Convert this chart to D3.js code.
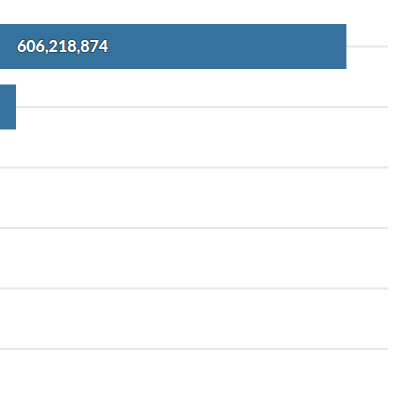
<!DOCTYPE html>
<html>
<head>
<meta charset="utf-8">
<script src="https://cdn.jsdelivr.net/npm/d3@7"></script>
<style>
  html, body { margin: 0; padding: 0; background: #fff; }
  svg { display: block; }
  .lbl { font-family: Lato, "Open Sans", sans-serif; font-weight: 900; font-size: 16px; fill: #fff;
         stroke: rgba(20,50,75,0.7); stroke-width: 2px; paint-order: stroke; stroke-linejoin: round; }
</style>
</head>
<body>
<svg id="chart" width="397" height="395"></svg>
<script>
const categories = ["Category 1", "Category 2", "Category 3", "Category 4", "Category 5", "Category 6"];
const values = [606218874, 28000000, 0, 0, 0, 0];

const W = 397, H = 395;
const svg = d3.select("#chart");

const x = d3.scaleLinear().domain([0, 700000000]).range([0, 400]);
const y = d3.scaleBand().domain(categories).range([16.25, 379.25]).paddingInner(0.256).paddingOuter(0.128);

const data = categories.map((c, i) => ({ c, v: values[i] }));

// gridlines at band centers
svg.append("g").selectAll("line").data(categories).join("line")
  .attr("x1", 0).attr("x2", 388)
  .attr("y1", d => y(d) + y.bandwidth() / 2)
  .attr("y2", d => y(d) + y.bandwidth() / 2)
  .attr("stroke", "#e8e8e8").attr("stroke-width", 2);

svg.append("g").selectAll("rect").data(data.filter(d => d.v > 0)).join("rect")
  .attr("x", x(0)).attr("y", d => y(d.c))
  .attr("width", d => x(d.v) - x(0))
  .attr("height", y.bandwidth())
  .attr("fill", "#35739e");

const fmt = d3.format(",");
svg.append("g").selectAll("text").data(data.filter(d => x(d.v) - x(0) > 120)).join("text")
  .attr("class", "lbl")
  .attr("x", x(0) + 17)
  .attr("y", d => y(d.c) + y.bandwidth() / 2)
  .attr("dy", "0.36em")
  .text(d => fmt(d.v));
</script>
</body>
</html>
